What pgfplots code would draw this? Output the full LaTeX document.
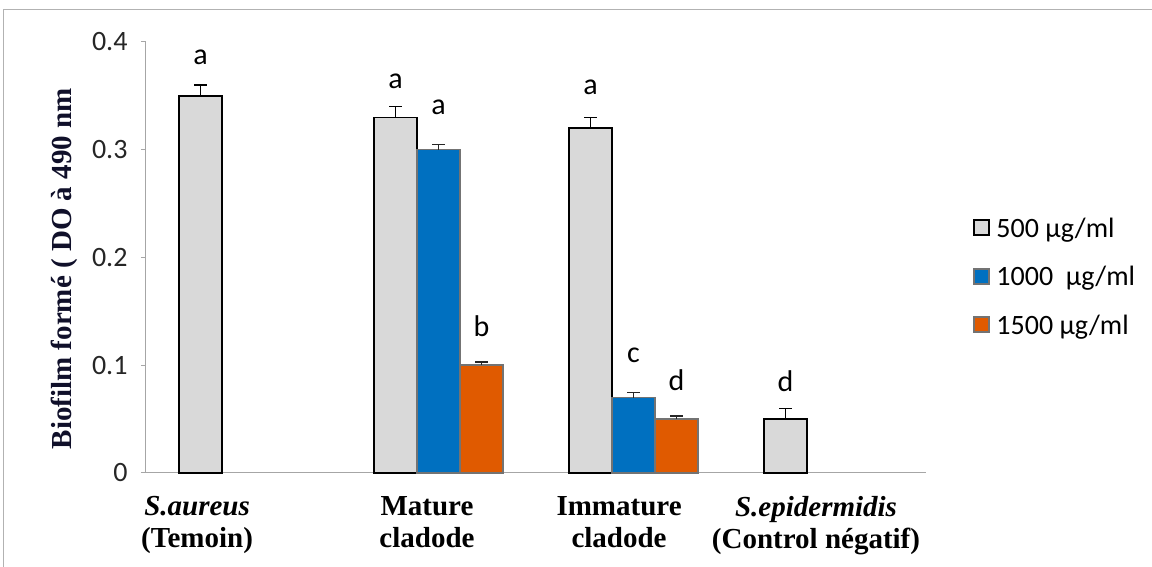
\documentclass[border=0pt]{standalone}
\usepackage{fontspec}
\setmainfont{Carlito}
\newfontfamily\tnr{Liberation Serif}
\usepackage{pgfplots}
\pgfplotsset{compat=1.18}
\usepackage{pgfplotstable}
\definecolor{cgrey}{HTML}{D9D9D9}
\definecolor{cblue}{HTML}{0070C0}
\definecolor{corange}{HTML}{E05A00}
\definecolor{axgray}{HTML}{A6A6A6}
\definecolor{ylab}{HTML}{10102A}

\pgfplotstableread{
x y e g l
0 0.35 0.01 19 a
1 0.33 0.01 17 a
2 0.32 0.01 22 a
3 0.05 0.01 16 d
}\greydata
\pgfplotstableread{
x y e g l
1 0.30 0.005 29 a
2 0.07 0.005 29 c
}\bluedata
\pgfplotstableread{
x y e g l
1 0.10 0.003 25 b
2 0.05 0.003 24 d
}\orangedata

\begin{document}
\begin{tikzpicture}
\path[use as bounding box] (0,0) rectangle (1152pt,567pt);
\draw[black!30, line width=1pt] (3.5pt,0) -- (3.5pt,557pt) -- (1152pt,557pt);
\begin{axis}[
  at={(146pt,94pt)}, anchor=south west,
  scale only axis, width=780pt, height=431pt,
  xmin=-0.5, xmax=3.5, ymin=0, ymax=0.4,
  axis lines*=left,
  axis line style={axgray, line width=1pt},
  ytick={0,0.1,0.2,0.3,0.4}, yticklabels={0,0.1,0.2,0.3,0.4},
  yticklabel style={font=\fontsize{28}{30}\selectfont, text=black!85, xshift=-10pt},
  ytick style={axgray, line width=1pt},
  tick align=outside, major tick length=5pt,
  xtick={-0.238,0.941,1.926,2.936},
  xticklabels={{\textit{S.aureus}\\(Temoin)},{Mature\\cladode},{Immature\\cladode},{\textit{S.epidermidis}\\(Control négatif)}},
  xtick style={draw=none},
  xticklabel style={font=\tnr\bfseries\fontsize{29}{32}\selectfont, align=center, anchor=north, yshift=-15pt},
  ylabel={Biofilm formé ( DO à 490 nm},
  ylabel style={font=\tnr\bfseries\fontsize{29}{32}\selectfont, text=ylab, at={(axis description cs:-0.105,0.474)}, anchor=center},
  legend style={at={(1.06,0.597)}, anchor=north west, draw=none, fill=none, font=\fontsize{28}{30}\selectfont, row sep=23.5pt, inner sep=0pt, cells={anchor=west}},
  legend cell align=left,
  nodes near coords,
  point meta=explicit symbolic,
  nodes near coords style={font=\fontsize{30}{32}\selectfont, text=black, anchor=south, inner sep=0pt, yshift={\err*1077.5+\gap}},
  clip=false,
]
\addplot[ybar, bar width=43pt, bar shift=0pt, fill=cgrey, draw=black, line width=1.8pt,
  visualization depends on={\thisrow{e} \as \err},
  visualization depends on={\thisrow{g} \as \gap},
  legend image code/.code={\draw[fill=cgrey, draw=black, line width=1.8pt] (0pt,-7pt) rectangle (15pt,8pt);},
  error bars/.cd, y dir=plus, y explicit,
  error bar style={black, line width=1.3pt},
  error mark options={rotate=90, mark size=6.5pt, line width=1.3pt, black}]
  table[x expr=\thisrow{x}-0.22051, y=y, y error=e, meta=l]{\greydata};
\addlegendentry{\,500 µg/ml}
\addplot[ybar, bar width=43pt, bar shift=0pt, fill=cblue, draw=black!55, line width=1.5pt,
  visualization depends on={\thisrow{e} \as \err},
  visualization depends on={\thisrow{g} \as \gap},
  legend image code/.code={\draw[fill=cblue, draw=black!55, line width=1.5pt] (0pt,-7pt) rectangle (15pt,8pt);},
  error bars/.cd, y dir=plus, y explicit,
  error bar style={black!85, line width=1.3pt},
  error mark options={rotate=90, mark size=6.5pt, line width=1.3pt, black!85}]
  table[x=x, y=y, y error=e, meta=l]{\bluedata};
\addlegendentry{\,1000\ \ µg/ml}
\addplot[ybar, bar width=43pt, bar shift=0pt, fill=corange, draw=black!55, line width=1.5pt,
  visualization depends on={\thisrow{e} \as \err},
  visualization depends on={\thisrow{g} \as \gap},
  legend image code/.code={\draw[fill=corange, draw=black!55, line width=1.5pt] (0pt,-7pt) rectangle (15pt,8pt);},
  error bars/.cd, y dir=plus, y explicit,
  error bar style={black!85, line width=1.3pt},
  error mark options={rotate=90, mark size=6.5pt, line width=1.3pt, black!85}]
  table[x expr=\thisrow{x}+0.22051, y=y, y error=e, meta=l]{\orangedata};
\addlegendentry{\,1500 µg/ml}
\end{axis}
\end{tikzpicture}
\end{document}
